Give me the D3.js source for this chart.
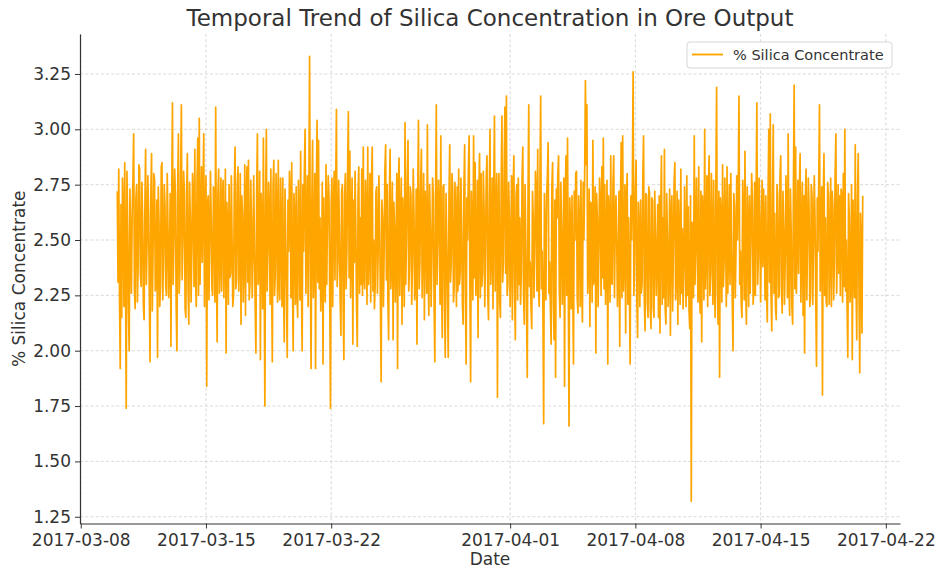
<!DOCTYPE html>
<html>
<head>
<meta charset="utf-8">
<script src="https://cdn.jsdelivr.net/npm/d3@7"></script>
<style>
  body { margin: 0; background: #fff; }
  svg { display: block; font-family: "DejaVu Sans", sans-serif; }
</style>
</head>
<body>
<svg id="chart" width="940" height="571"></svg>
<script>
// Hourly plant readings of silica in the flotation concentrate
const chartTitle = "Temporal Trend of Silica Concentration in Ore Output";
const seriesName = "% Silica Concentrate";
const xLabel = "Date";
const yLabel = "% Silica Concentrate";
const startTime = "2017-03-10T01:00:00Z";
const stepHours = 1;

const silica = [
  2.72, 2.31, 2.82, 2.24, 1.92, 2.66, 2.15, 2.78, 2.62, 2.2, 2.85, 2.38, 1.74, 2.81, 2.55, 2.19, 2.0, 2.73, 2.48, 2.26,
  2.62, 2.77, 2.98, 2.28, 2.19, 2.69, 2.75, 2.22, 2.38, 2.84, 2.82, 2.35, 2.29, 2.76, 2.6, 2.21, 2.14, 2.64, 2.91, 2.3,
  2.5, 2.79, 2.62, 2.25, 1.95, 2.7, 2.89, 2.18, 2.45, 2.8, 2.77, 2.27, 2.33, 2.68, 1.97, 2.74, 2.58, 2.2, 2.3, 2.83,
  2.85, 2.23, 2.42, 2.75, 2.66, 2.29, 2.25, 2.8, 2.55, 2.24, 2.4, 2.71, 2.02, 2.67, 3.12, 2.3, 2.52, 2.82, 2.7, 2.21,
  2.0, 2.72, 2.98, 2.26, 2.36, 2.78, 3.11, 2.32, 2.5, 2.81, 2.72, 2.19, 2.15, 2.69, 2.89, 2.27, 2.12, 2.76, 2.6, 2.22,
  2.45, 2.8, 2.68, 2.29, 2.91, 2.34, 2.2, 2.77, 2.96, 2.25, 3.05, 2.3, 2.55, 2.83, 2.4, 2.72, 2.98, 2.2, 2.62, 2.79,
  1.84, 2.66, 2.7, 2.23, 2.5, 2.81, 2.6, 2.28, 2.25, 2.74, 2.7, 2.22, 3.10, 2.37, 2.04, 2.71, 2.82, 2.26, 2.4, 2.78,
  2.27, 2.69, 2.77, 2.24, 2.45, 2.82, 1.99, 2.67, 2.55, 2.21, 2.75, 2.33, 2.35, 2.79, 2.5, 2.2, 2.25, 2.73, 2.92, 2.28,
  2.32, 2.75, 2.83, 2.27, 2.45, 2.8, 2.12, 2.7, 2.62, 2.22, 2.4, 2.84, 2.16, 2.68, 2.83, 2.31, 2.86, 2.23, 2.3, 2.77,
  2.6, 2.24, 2.42, 2.79, 2.5, 2.2, 1.99, 2.72, 2.98, 2.3, 2.4, 2.81, 1.96, 2.71, 2.55, 2.19, 2.96, 2.36, 1.75, 2.69,
  3.0, 2.27, 2.45, 2.76, 2.62, 2.21, 2.82, 2.33, 1.95, 2.74, 2.86, 2.25, 2.35, 2.8,
  2.6, 2.22, 2.86, 2.31, 2.23, 2.78, 2.55, 2.2, 2.78, 2.29, 2.04, 2.73, 2.5, 2.26, 1.97, 2.68, 2.45, 2.81, 2.70, 2.24,
  2.85, 2.3, 2.0, 2.71, 2.6, 2.21, 2.74, 2.27, 2.15, 2.77, 2.55, 2.23, 2.9, 2.32, 2.0, 2.75, 2.45, 2.82, 3.0, 2.26,
  2.5, 2.79, 2.2, 2.72, 3.33, 2.35, 1.92, 2.67, 2.95, 2.24, 2.4, 2.8, 1.92, 2.7, 3.04, 2.31, 2.95, 2.28, 2.6, 2.18,
  2.3, 2.76, 1.94, 2.69, 2.4, 2.22, 2.84, 2.3, 2.6, 2.79, 2.7, 2.25, 1.74, 2.66, 2.78, 2.2, 2.64, 2.81, 2.32, 2.73,
  3.09, 2.29, 2.4, 2.77, 2.55, 2.23, 2.07, 2.72, 2.75, 2.21, 1.96, 2.7, 2.8, 2.28, 2.45, 2.82, 3.08, 2.33, 2.9, 2.24,
  2.55, 2.78, 2.03, 2.68, 2.4, 2.81, 2.55, 2.2, 2.02, 2.71, 2.83, 2.26, 2.6, 2.3,
  2.82, 2.25, 2.92, 2.33, 2.28, 2.77, 2.6, 2.21, 2.92, 2.3, 2.45, 2.8, 2.22, 2.74, 2.92, 2.27, 2.5, 2.19, 2.3, 2.72,
  2.74, 2.26, 2.45, 2.79, 2.55, 2.23, 1.86, 2.68, 2.6, 2.2, 2.45, 2.81, 2.93, 2.32, 2.75, 2.24, 2.05, 2.7, 2.91, 2.28,
  2.45, 2.76, 2.05, 2.67, 2.55, 2.22, 2.48, 2.8, 1.92, 2.71, 2.87, 2.25, 2.55, 2.78, 2.12, 2.69, 2.45, 2.2, 3.03, 2.3,
  2.5, 2.79, 2.95, 2.27, 2.38, 2.74, 2.7, 2.21, 2.4, 2.82, 2.62, 2.23, 2.3, 2.73, 2.03, 2.68, 3.04, 2.28, 2.4, 2.77,
  2.91, 2.24, 2.5, 2.8, 2.14, 2.72, 2.6, 2.26, 3.02, 2.33, 2.16, 2.75, 2.55, 2.2, 2.4, 2.78, 2.7, 2.22, 1.95, 2.69,
  3.11, 2.3, 2.5, 2.77, 2.62, 2.21, 2.97, 2.29, 2.06, 2.74, 2.75, 2.23, 1.97, 2.71,
  2.5, 2.24, 1.97, 2.7, 2.93, 2.31, 2.4, 2.8, 2.73, 2.22, 2.29, 2.76, 2.6, 2.2, 2.74, 2.27, 2.82, 2.3, 2.35, 2.78,
  2.55, 2.21, 2.12, 2.73, 2.93, 2.28, 1.94, 2.69, 2.5, 2.82, 2.97, 2.3, 1.86, 2.72, 2.55, 2.23, 2.97, 2.33, 2.85, 2.25,
  2.3, 2.77, 2.06, 2.7, 2.89, 2.24, 2.8, 2.29, 2.35, 2.81, 2.65, 2.2, 2.45, 2.79, 2.88, 2.26, 2.14, 2.68, 3.0, 2.3,
  2.45, 2.78, 2.19, 2.72, 3.06, 2.27, 2.55, 2.8, 1.79, 2.66, 2.8, 2.22, 2.15, 2.74, 3.06, 2.31, 2.4, 2.82, 3.1, 2.35,
  3.15, 2.25, 2.3, 2.76, 2.6, 2.2, 2.45, 2.79, 2.14, 2.71, 2.88, 2.28, 2.05, 2.7, 2.75, 2.23, 2.78, 2.3, 2.6, 2.21,
  2.35, 2.78, 2.92, 2.26, 2.12, 2.75, 2.5, 2.2, 1.88, 2.69, 3.11, 2.29, 2.4, 2.2,
  2.1, 2.72, 2.6, 2.24, 2.45, 2.81, 2.7, 2.27, 2.91, 2.3, 2.2, 2.77, 3.15, 2.28, 2.45, 2.2, 1.67, 2.71, 2.5, 2.23,
  2.7, 2.79, 2.94, 2.26, 2.4, 2.2, 2.03, 2.74, 2.85, 2.22, 2.05, 2.68, 1.88, 2.73, 2.6, 2.8, 2.88, 2.27, 2.15, 2.76,
  2.55, 2.21, 2.4, 2.78, 1.84, 2.71, 2.88, 2.25, 2.96, 2.32, 1.66, 2.69, 2.55, 2.19, 2.70, 2.27, 1.94, 2.72, 2.5, 2.8,
  2.81, 2.24, 2.17, 2.7, 2.55, 2.2, 2.77, 2.29, 2.13, 2.76, 2.5, 2.79, 3.22, 2.84, 3.11, 2.26, 2.4, 2.73, 2.11, 2.67,
  2.65, 2.22, 2.95, 2.3, 2.35, 2.74, 1.99, 2.71, 2.6, 2.2, 2.45, 2.78, 2.65, 2.25, 2.83, 2.33, 2.96, 2.28, 2.75, 2.21,
  2.45, 2.77, 1.94, 2.7, 2.6, 2.22, 2.88, 2.31, 2.3, 2.76, 2.88, 2.24, 2.58, 2.7,
  2.5, 2.2, 2.35, 2.72, 2.02, 2.66, 2.94, 2.24, 2.97, 2.27, 2.45, 2.75, 2.08, 2.68, 2.8, 2.21, 2.6, 2.3, 1.94, 2.7,
  2.5, 2.76, 3.26, 2.25, 2.4, 2.73, 2.86, 2.22, 2.06, 2.67, 2.55, 2.2, 2.68, 2.26, 2.3, 2.78, 2.97, 2.23, 2.09, 2.71,
  2.7, 2.22, 2.15, 2.74, 2.71, 2.19, 2.1, 2.69, 2.68, 2.2, 2.15, 2.72, 2.5, 2.25, 2.42, 2.66, 2.15, 2.7, 2.08, 2.64,
  2.88, 2.21, 2.6, 2.24, 2.91, 2.19, 2.12, 2.71, 2.5, 2.2, 2.35, 2.73, 2.07, 2.62, 2.70, 2.18, 2.45, 2.76, 2.85, 2.23,
  2.35, 2.72, 2.12, 2.68, 2.5, 2.21, 2.82, 2.26, 2.55, 2.19, 2.35, 2.74, 2.5, 2.2, 2.79, 2.25, 2.65, 2.18, 2.1, 2.7,
  1.32, 2.58, 2.55, 2.24, 2.97, 2.3, 2.5, 2.78, 2.45, 2.22, 2.83, 2.27, 2.17, 2.72,
  2.04, 2.7, 2.6, 2.23, 3.0, 2.28, 2.45, 2.79, 2.2, 2.74, 2.88, 2.25, 2.35, 2.8, 2.5, 2.21, 2.77, 2.3, 2.15, 2.76,
  3.19, 2.27, 2.12, 2.72, 1.88, 2.69, 2.6, 2.22, 2.84, 2.29, 2.4, 2.78, 2.55, 2.2, 2.83, 2.26, 2.45, 2.75, 2.3, 2.8,
  2.48, 2.22, 2.0, 2.71, 2.65, 2.24, 2.45, 2.79, 2.5, 2.73, 3.15, 2.3, 2.45, 2.21, 2.15, 2.77, 2.6, 2.23, 2.9, 2.28,
  2.12, 2.74, 2.55, 2.2, 2.7, 2.26, 2.5, 2.8, 2.68, 2.21, 2.28, 2.76, 2.25, 2.72, 3.12, 2.3, 2.42, 2.78, 2.6, 2.22,
  2.5, 2.77, 2.38, 2.73, 2.55, 2.23, 2.7, 2.27, 2.13, 2.7, 3.0, 2.31, 3.07, 2.25, 2.09, 2.68, 3.02, 2.26, 2.62, 2.2,
  2.14, 2.75, 2.7, 2.24, 2.25, 2.78, 2.88, 2.29, 2.17, 2.72, 2.55, 2.21, 2.4, 2.79,
  2.6, 2.24, 2.98, 2.3, 2.16, 2.73, 2.55, 2.2, 2.12, 2.71, 3.20, 2.28, 2.92, 2.26, 2.5, 2.77, 2.35, 2.74, 2.89, 2.22,
  2.45, 2.76, 2.16, 2.7, 1.99, 2.68, 2.82, 2.23, 2.5, 2.78, 2.65, 2.2, 2.25, 2.75, 2.7, 2.21, 2.5, 2.79, 2.6, 2.24,
  1.93, 2.69, 2.45, 2.77, 3.11, 2.27, 2.5, 2.74, 1.80, 2.66, 2.89, 2.25, 2.6, 2.22, 2.2, 2.76, 2.7, 2.21, 2.45, 2.78,
  2.2, 2.72, 2.65, 2.23, 2.4, 2.8, 2.98, 2.26, 2.45, 2.75, 2.35, 2.7, 2.25, 2.73, 2.7, 2.22, 2.8, 2.29, 3.0, 2.27,
  2.5, 2.21, 1.97, 2.71, 2.6, 2.22, 2.3, 2.75, 1.96, 2.68, 2.45, 2.24, 2.93, 2.3, 2.05, 2.7, 2.89, 2.25, 1.90, 2.62,
  2.5, 2.08, 2.70
];

const xTickLabels = ["2017-03-08", "2017-03-15", "2017-03-22", "2017-04-01",
                     "2017-04-08", "2017-04-15", "2017-04-22"];
const yTickValues = [1.25, 1.50, 1.75, 2.00, 2.25, 2.50, 2.75, 3.00, 3.25];

// ---- layout ----
const width = 940, height = 571;
const margin = { top: 34, right: 40, bottom: 47.5, left: 80 };
const innerW = width - margin.left - margin.right;
const innerH = height - margin.top - margin.bottom;
const lineColor = "#ffa500";
const textColor = "#333333";

const t0 = d3.utcParse("%Y-%m-%dT%H:%M:%SZ")(startTime);
const data = silica.map((v, i) => ({ date: d3.utcHour.offset(t0, i * stepHours), value: v }));

// 5% padding around the data range on both axes
const [xMin, xMax] = d3.extent(data, d => d.date);
const xPad = (xMax - xMin) * 0.05;
const [yMin, yMax] = d3.extent(data, d => d.value);
const yPad = (yMax - yMin) * 0.05;

const x = d3.scaleUtc()
  .domain([new Date(+xMin - xPad), new Date(+xMax + xPad)])
  .range([0, innerW]);
const y = d3.scaleLinear()
  .domain([yMin - yPad, yMax + yPad])
  .range([innerH, 0]);

const parseDay = d3.utcParse("%Y-%m-%d");
const xTicks = xTickLabels.map(parseDay);

const svg = d3.select("#chart");
svg.append("rect").attr("width", width).attr("height", height).attr("fill", "#fff");

const g = svg.append("g").attr("transform", `translate(${margin.left},${margin.top})`);

// grid
g.append("g").selectAll("line").data(yTickValues).join("line")
  .attr("x1", 0).attr("x2", innerW)
  .attr("y1", d => y(d)).attr("y2", d => y(d))
  .attr("stroke", "#cfcfcf").attr("stroke-width", 0.8).attr("stroke-dasharray", "3,2.2");
g.append("g").selectAll("line").data(xTicks).join("line")
  .attr("x1", d => x(d)).attr("x2", d => x(d))
  .attr("y1", 0).attr("y2", innerH)
  .attr("stroke", "#cfcfcf").attr("stroke-width", 0.8).attr("stroke-dasharray", "3,2.2");

// series
const line = d3.line().x(d => x(d.date)).y(d => y(d.value));
g.append("path").datum(data)
  .attr("d", line)
  .attr("fill", "none")
  .attr("stroke", lineColor)
  .attr("stroke-width", 1.7)
  .attr("stroke-linejoin", "round");

// axes
const xAxis = d3.axisBottom(x).tickValues(xTicks).tickFormat(d3.utcFormat("%Y-%m-%d"))
  .tickSizeInner(5).tickSizeOuter(0).tickPadding(5);
const yAxis = d3.axisLeft(y).tickValues(yTickValues).tickFormat(d3.format(".2f"))
  .tickSizeInner(5).tickSizeOuter(0).tickPadding(4);

const gx = g.append("g").attr("transform", `translate(0,${innerH})`).call(xAxis);
const gy = g.append("g").call(yAxis);
[gx, gy].forEach(a => {
  a.select(".domain").attr("stroke", "#333").attr("stroke-width", 1.2);
  a.selectAll(".tick line").attr("stroke", "#333").attr("stroke-width", 1);
  a.selectAll(".tick text").attr("fill", textColor)
    .style("font-family", "'DejaVu Sans', sans-serif").style("font-size", "17px");
});

// title and axis labels
svg.append("text")
  .attr("x", margin.left + innerW / 2).attr("y", 26)
  .attr("text-anchor", "middle").attr("fill", textColor)
  .style("font-size", "23px")
  .text(chartTitle);

svg.append("text")
  .attr("x", margin.left + innerW / 2).attr("y", 565)
  .attr("text-anchor", "middle").attr("fill", textColor)
  .style("font-size", "17px")
  .text(xLabel);

svg.append("text")
  .attr("transform", `translate(25,${margin.top + innerH / 2}) rotate(-90)`)
  .attr("text-anchor", "middle").attr("fill", textColor)
  .style("font-size", "17px")
  .text(yLabel);

// legend
const lg = svg.append("g").attr("transform", "translate(687,42)");
lg.append("rect")
  .attr("width", 205).attr("height", 26).attr("rx", 3)
  .attr("fill", "#fff").attr("fill-opacity", 0.8)
  .attr("stroke", "#d6d6d6").attr("stroke-width", 1);
lg.append("line")
  .attr("x1", 5).attr("x2", 36).attr("y1", 12.5).attr("y2", 12.5)
  .attr("stroke", lineColor).attr("stroke-width", 1.9);
lg.append("text")
  .attr("x", 46).attr("y", 18)
  .attr("fill", textColor).style("font-size", "14.5px")
  .text(seriesName);
</script>
</body>
</html>
